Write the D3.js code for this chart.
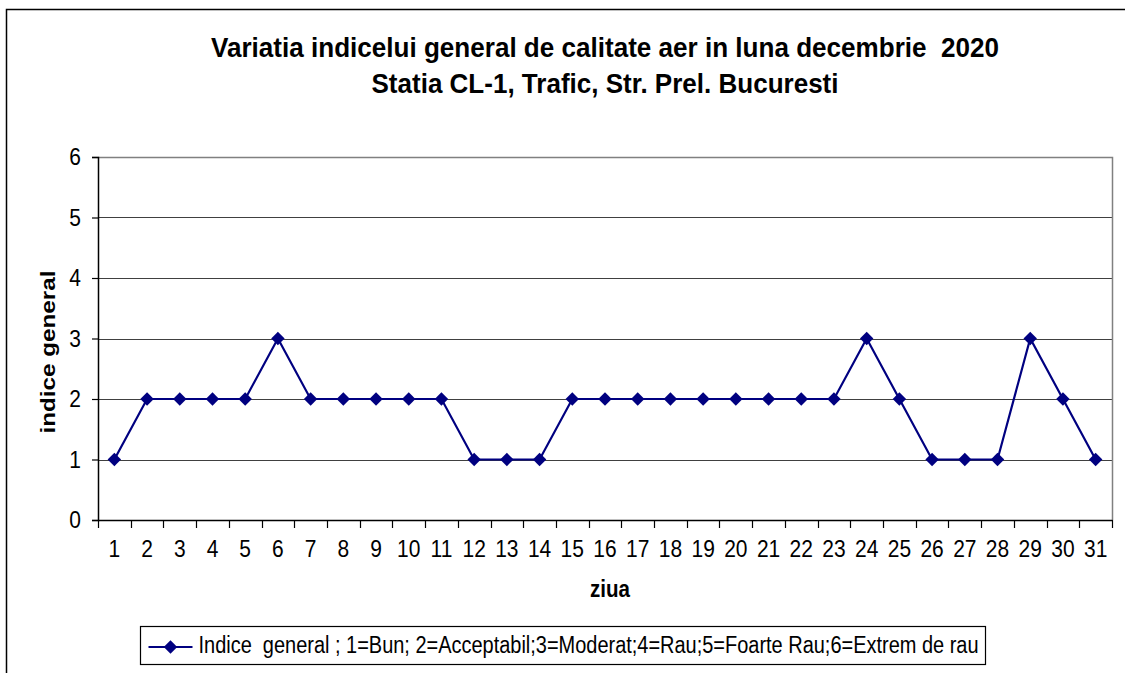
<!DOCTYPE html>
<html>
<head>
<meta charset="utf-8">
<script src="https://cdn.jsdelivr.net/npm/d3@7"></script>
<style>
  body { margin: 0; background: #fff; }
  svg text { font-family: "Liberation Sans", Arial, sans-serif; fill: #000; white-space: pre; }
</style>
</head>
<body>
<div id="chart"></div>
<script>
// day of month
var days = d3.range(1, 32).map(String);
// indice general per day
var indice = [1, 2, 2, 2, 2, 3, 2, 2, 2, 2, 2, 1, 1, 1, 2, 2, 2, 2, 2, 2, 2, 2, 2, 3, 2, 1, 1, 1, 3, 2, 1];
var yTicks = [0, 1, 2, 3, 4, 5, 6];

var titleLines = ["Variatia indicelui general de calitate aer in luna decembrie  2020",
                  "Statia CL-1, Trafic, Str. Prel. Bucuresti"];
var legendText = "Indice  general ; 1=Bun; 2=Acceptabil;3=Moderat;4=Rau;5=Foarte Rau;6=Extrem de rau";

var svgWidth = 1125, svgHeight = 673;
var margin = {top: 157, right: 13, bottom: 153, left: 98};
var width = svgWidth - margin.left - margin.right;
var height = svgHeight - margin.top - margin.bottom;
var lineColor = "#000080";
var stretch = 1.15; // text in the picture is a bit taller than wide

var svg = d3.select("#chart").append("svg")
  .attr("width", svgWidth)
  .attr("height", svgHeight);

// outer frame (runs off the right and bottom of the picture)
svg.append("rect")
  .attr("x", 6.5).attr("y", 9.5)
  .attr("width", 1200).attr("height", 800)
  .attr("fill", "none").attr("stroke", "#000").attr("stroke-width", 1.5);

// title
svg.selectAll(".title")
  .data(titleLines)
  .enter().append("text")
  .attr("class", "title")
  .attr("x", 605)
  .attr("y", (d, i) => 57 + i * 36)
  .attr("text-anchor", "middle")
  .attr("font-size", "28px")
  .attr("font-weight", "bold")
  .attr("textLength", (d, i) => i == 0 ? 788 : 467)
  .attr("lengthAdjust", "spacingAndGlyphs")
  .text(d => d);

var chartGroup = svg.append("g")
  .attr("transform", `translate(${margin.left}, ${margin.top})`);

var xScale = d3.scaleBand()
  .domain(days)
  .range([0, width])
  .padding(0);

var yScale = d3.scaleLinear()
  .domain([0, 6])
  .range([height, 0]);

// gridlines
chartGroup.selectAll(".grid")
  .data(yTicks.filter(d => d > 0 && d < 6))
  .enter().append("line")
  .attr("x1", 0).attr("x2", width)
  .attr("y1", d => Math.round(yScale(d)) + 0.5)
  .attr("y2", d => Math.round(yScale(d)) + 0.5)
  .attr("stroke", "#404040").attr("stroke-width", 1.2);

// plot border top/right
chartGroup.append("path")
  .attr("d", `M0,${yScale(6) + 0.5}H${width + 0.5}V${height}`)
  .attr("fill", "none")
  .attr("stroke", "#808080").attr("stroke-width", 1.5);

// x axis (ticks between categories)
var xAxis = chartGroup.append("g")
  .attr("transform", `translate(0, ${height})`)
  .call(d3.axisBottom(xScale).tickSize(0));
xAxis.select(".domain").attr("stroke", "#000").attr("stroke-width", 1.5);
xAxis.selectAll("text")
  .attr("font-size", "21px")
  .attr("font-family", "Liberation Sans, Arial, sans-serif")
  .attr("dy", null)
  .attr("y", 37 / stretch)
  .attr("transform", `scale(1, ${stretch})`);
chartGroup.append("g")
  .selectAll("line")
  .data(days.concat(["end"]))
  .enter().append("line")
  .attr("x1", (d, i) => Math.round(i * xScale.step()) + 0.5)
  .attr("x2", (d, i) => Math.round(i * xScale.step()) + 0.5)
  .attr("y1", height).attr("y2", height + 8)
  .attr("stroke", "#000").attr("stroke-width", 1.2);

// y axis
var yAxis = chartGroup.append("g")
  .call(d3.axisLeft(yScale).tickValues(yTicks).tickFormat(d3.format("d")).tickSize(6).tickPadding(11));
yAxis.select(".domain").attr("stroke", "#000").attr("stroke-width", 1.5);
yAxis.selectAll(".tick line").attr("stroke", "#000").attr("stroke-width", 1.2);
yAxis.selectAll("text")
  .attr("font-size", "21px")
  .attr("font-family", "Liberation Sans, Arial, sans-serif")
  .attr("transform", `scale(1, ${stretch})`);

// axis titles
svg.append("text")
  .attr("transform", "translate(55, 352) rotate(-90)")
  .attr("text-anchor", "middle")
  .attr("font-size", "21px")
  .attr("font-weight", "bold")
  .attr("textLength", 163)
  .attr("lengthAdjust", "spacingAndGlyphs")
  .text("indice general");

svg.append("text")
  .attr("transform", `translate(610, 597) scale(1, ${stretch})`)
  .attr("text-anchor", "middle")
  .attr("font-size", "21px")
  .attr("font-weight", "bold")
  .attr("textLength", 40)
  .attr("lengthAdjust", "spacingAndGlyphs")
  .text("ziua");

// series line
var line = d3.line()
  .x((d, i) => xScale(days[i]) + xScale.bandwidth() / 2)
  .y(d => yScale(d));

chartGroup.append("path")
  .datum(indice)
  .attr("d", line)
  .attr("fill", "none")
  .attr("stroke", lineColor)
  .attr("stroke-width", 2.2);

var diamond = d3.symbol().type(d3.symbolDiamond2).size(115);
chartGroup.selectAll(".marker")
  .data(indice)
  .enter().append("path")
  .attr("class", "marker")
  .attr("d", diamond)
  .attr("transform", (d, i) => `translate(${xScale(days[i]) + xScale.bandwidth() / 2}, ${yScale(d)})`)
  .attr("fill", lineColor);

// legend
var legend = svg.append("g").attr("transform", "translate(140.5, 626.5)");
legend.append("rect")
  .attr("width", 845).attr("height", 38)
  .attr("fill", "#fff").attr("stroke", "#000").attr("stroke-width", 1.2);
legend.append("line")
  .attr("x1", 8).attr("x2", 52).attr("y1", 20.5).attr("y2", 20.5)
  .attr("stroke", lineColor).attr("stroke-width", 2.2);
legend.append("path")
  .attr("d", diamond)
  .attr("transform", "translate(30, 20.5)")
  .attr("fill", lineColor);
legend.append("text")
  .attr("transform", `translate(58, 26) scale(1, ${stretch})`)
  .attr("font-size", "21px")
  .attr("textLength", 780)
  .attr("lengthAdjust", "spacingAndGlyphs")
  .text(legendText);
</script>
</body>
</html>
